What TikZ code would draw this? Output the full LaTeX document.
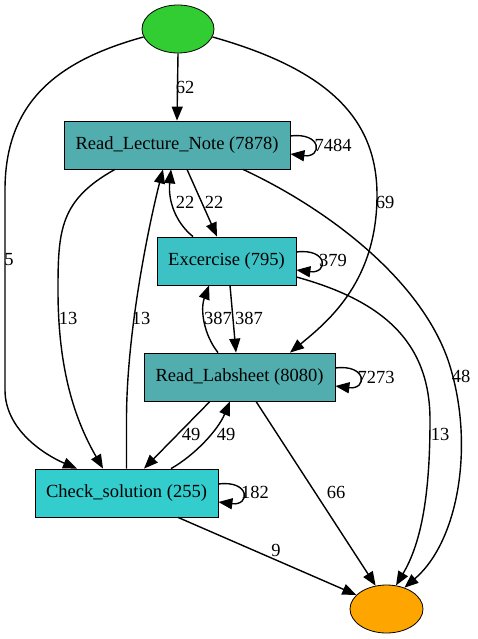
\documentclass[tikz,border=0pt]{standalone}
\usepackage{fontspec}
\setmainfont{LiberationSerif-Regular.ttf}
\usetikzlibrary{arrows.meta, shapes.geometric}
\definecolor{vertdebut}{RGB}{50, 205, 50}
\definecolor{orangefin}{RGB}{255, 165, 0}
\definecolor{sarcelle}{RGB}{82, 174, 174}
\definecolor{turquoise}{RGB}{60, 194, 196}
\definecolor{cyanclair}{RGB}{50, 205, 204}

\begin{document}
\begin{tikzpicture}[
    x=1pt, y=-1pt,
    >={Triangle[length=14pt, width=11pt]},
    activite/.style={draw, rectangle, line width=0.8pt, minimum height=48pt,
                     inner sep=0pt, font=\rmfamily\fontsize{18.5}{20}\selectfont},
    terminal/.style={draw, ellipse, line width=0.8pt, minimum width=72pt,
                     minimum height=48pt, inner sep=0pt},
    fleche/.style={->, line width=1.4pt},
    lbl/.style={font=\rmfamily\fontsize{18.5}{20}\selectfont, inner sep=0pt}
]
\useasboundingbox (0,0) rectangle (477,639);

% --- Noeuds ---
\node[terminal, fill=vertdebut] (debut) at (178,29) {};
\node[activite, fill=sarcelle, minimum width=226pt] (rln) at (177,145)
    {Read\_Lecture\_Note (7878)};
\node[activite, fill=turquoise, minimum width=139pt] (exc) at (226.5,261)
    {Excercise (795)};
\node[activite, fill=sarcelle, minimum width=191pt] (lab) at (239.5,377)
    {Read\_Labsheet (8080)};
\node[activite, fill=cyanclair, minimum width=183pt] (check) at (126.5,493)
    {Check\_solution (255)};
\node[terminal, fill=orangefin, minimum width=73pt] (fin) at (386.5,609) {};

% ============================================================
%  Depuis le debut
% ============================================================
\draw[fleche] (debut.south) -- (rln.north) node[lbl] at (185,87) {62};
\draw[fleche] (debut.193) .. controls (60,60) and (5,100) .. (5,190)
    -- (5,390) .. controls (5,430) and (45,455) .. ([xshift=-49.5pt]check.north)
    node[lbl] at (9,260) {5};
\draw[fleche] (debut.-13) .. controls (330,70) and (377,120) .. (377,195)
    .. controls (377,280) and (330,320) .. ([xshift=50.5pt]lab.north)
    node[lbl] at (385,202) {69};

% ============================================================
%  Read_Lecture_Note
% ============================================================
\draw[fleche] ([yshift=9pt]rln.east) .. controls +(32,-4) and +(32,4)
    .. ([yshift=-9pt]rln.east) node[lbl] at (333,145) {7484};
\draw[fleche] ([xshift=10pt]rln.south) -- ([xshift=-9.5pt]exc.north)
    node[lbl] at (214,202) {22};
\draw[fleche] ([xshift=-62pt]rln.south) .. controls (60,200) and (58,230) .. (58,290)
    .. controls (58,370) and (75,420) .. ([xshift=-23.5pt]check.north)
    node[lbl] at (68,318) {13};
\draw[fleche] ([xshift=66pt]rln.south) .. controls (330,210) and (420,280) .. (448,360)
    .. controls (475,440) and (460,540) .. (fin.50)
    node[lbl] at (461,376) {48};

% ============================================================
%  Excercise
% ============================================================
\draw[fleche] ([xshift=-33.5pt]exc.north) .. controls (175,222) and (168,200)
    .. ([xshift=-6pt]rln.south) node[lbl] at (185,202) {22};
\draw[fleche] ([yshift=9pt]exc.east) .. controls +(32,-4) and +(32,4)
    .. ([yshift=-9pt]exc.east) node[lbl] at (333,260) {379};
\draw[fleche] ([xshift=3.5pt]exc.south) -- ([xshift=-3.5pt]lab.north)
    node[lbl] at (249,318) {387};
\draw[fleche] ([yshift=-16pt]exc.east) .. controls (380,300) and (430,340) .. (430,420)
    .. controls (430,500) and (420,545) .. (fin.68)
    node[lbl] at (440,434) {13};

% ============================================================
%  Read_Labsheet
% ============================================================
\draw[fleche] ([xshift=-21.5pt]lab.north) .. controls (204,335) and (200,310)
    .. ([xshift=-17.5pt]exc.south) node[lbl] at (218,318) {387};
\draw[fleche] ([yshift=9pt]lab.east) .. controls +(32,-4) and +(32,4)
    .. ([yshift=-9pt]lab.east) node[lbl] at (376,377) {7273};
\draw[fleche] ([xshift=-29.5pt]lab.south) -- ([xshift=17.5pt]check.north)
    node[lbl] at (191,434) {49};
\draw[fleche] ([xshift=16.5pt]lab.south) -- (fin.115)
    node[lbl] at (336,492) {66};

% ============================================================
%  Check_solution
% ============================================================
\draw[fleche] (check.north) -- ([yshift=49pt]check.north)
    .. controls (126.5,330) and (150,220) .. ([xshift=-14pt]rln.south)
    node[lbl] at (141,318) {13};
\draw[fleche] ([yshift=9pt]check.east) .. controls +(32,-4) and +(32,4)
    .. ([yshift=-9pt]check.east) node[lbl] at (255,492) {182};
\draw[fleche] ([xshift=44.5pt]check.north) .. controls (195,455) and (218,430)
    .. ([xshift=-9.5pt]lab.south) node[lbl] at (226,434) {49};
\draw[fleche] ([xshift=51.5pt]check.south) -- (fin.155)
    node[lbl] at (276,550) {9};

\end{tikzpicture}
\end{document}
